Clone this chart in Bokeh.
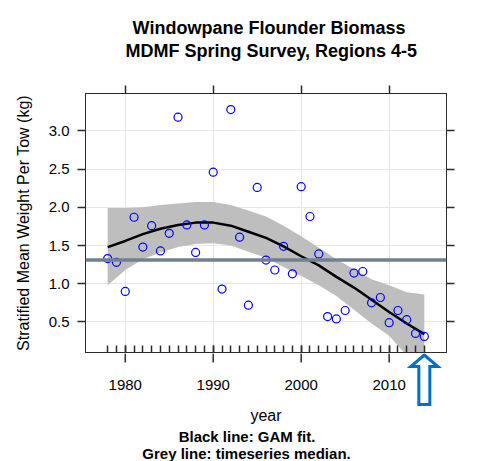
import numpy as np
from bokeh.plotting import figure
from bokeh.layouts import column
from bokeh.models import (Range1d, LinearAxis, FixedTicker, Span, PrintfTickFormatter)
from bokeh.core.properties import value
from bokeh.embed import file_html
from bokeh.resources import INLINE

# ---- data ----
years = list(range(1978, 2015))
biomass = [1.33, 1.28, 0.90, 1.87, 1.48, 1.76, 1.43, 1.66, 3.18, 1.77,
           1.41, 1.77, 2.46, 0.93, 3.28, 1.61, 0.72, 2.26, 1.31, 1.18,
           1.49, 1.13, 2.27, 1.88, 1.39, 0.57, 0.54, 0.65, 1.14, 1.16,
           0.75, 0.82, 0.49, 0.65, 0.53, 0.35, 0.31]

fit_years = [1978, 1980, 1982, 1984, 1986, 1988, 1990, 1992, 1994, 1996,
             1998, 2000, 2002, 2004, 2006, 2008, 2010, 2012, 2014]
gam_fit = [1.48, 1.56, 1.65, 1.72, 1.77, 1.80, 1.80, 1.76, 1.68, 1.60,
           1.49, 1.36, 1.24, 1.09, 0.95, 0.79, 0.63, 0.48, 0.34]
gam_lower = [0.98, 1.18, 1.32, 1.41, 1.48, 1.52, 1.53, 1.50, 1.42, 1.34,
             1.22, 1.10, 0.98, 0.84, 0.66, 0.48, 0.32, 0.06, -0.18]
gam_upper = [1.99, 1.99, 2.00, 2.03, 2.05, 2.07, 2.07, 2.03, 1.96, 1.88,
             1.76, 1.62, 1.47, 1.32, 1.19, 1.06, 0.98, 0.89, 0.86]

x_ticks = [1980, 1990, 2000, 2010]
x_tick_labels = ["1980", "1990", "2000", "2010"]
y_ticks = [0.5, 1.0, 1.5, 2.0, 2.5, 3.0]

title_lines = ["Windowpane Flounder Biomass", "MDMF Spring Survey, Regions 4-5"]
footer_lines = ["Black line: GAM fit.", "Grey line: timeseries median."]

median_value = float(np.median(biomass))

# ---- ranges (lattice-style 7% padding) ----
x0, x1 = 1975.48, 2016.52
y0, y1 = 0.10, 3.49
x_range = Range1d(x0, x1)

FONT = "Liberation Sans"
AX_COL = "#2b2b2b"
TICK_W = 1.5
W = 480
LEFT, RIGHT = 85, 34
FRAME_W = W - LEFT - RIGHT          # 361
FRAME_H = 259
HEAD_H = 85                          # title block height
PLOT_H = 8 + FRAME_H + 1             # top ticks + frame + outline
FOOT_H = 461 - HEAD_H - PLOT_H       # bottom block height
xpx = FRAME_W / (x1 - x0)


def px_to_year(px):
    return x0 + (px - LEFT) / xpx


def bare(fig):
    fig.grid.visible = False
    fig.outline_line_color = None
    fig.background_fill_color = "white"
    fig.border_fill_color = "white"


def style_axis(axis):
    axis.axis_line_color = AX_COL
    axis.axis_line_width = 1
    axis.major_tick_line_color = AX_COL
    axis.minor_tick_line_color = AX_COL
    axis.major_tick_line_width = TICK_W
    axis.minor_tick_line_width = TICK_W


def ticks_only(axis, ticks):
    """Axis that shows tick marks but no tick labels."""
    axis.major_label_overrides = {t: "" for t in ticks}
    axis.major_label_standoff = 0
    axis.major_label_text_font_size = "0px"
    style_axis(axis)


# ---------------- header (titles) ----------------
head = figure(width=W, height=HEAD_H, x_range=Range1d(0, W), y_range=Range1d(HEAD_H, 0),
              output_backend="svg", toolbar_location=None,
              x_axis_location=None, y_axis_location=None,
              min_border_left=0, min_border_right=0, min_border_top=0, min_border_bottom=0)
bare(head)
head.text(x=[244, 247], y=[27, 50], text=title_lines, text_font=value(FONT),
          text_font_size="18px", text_font_style="bold", text_color="black",
          text_align="center", text_baseline="alphabetic")

# ---------------- main plot ----------------
p = figure(width=W, height=PLOT_H, x_range=x_range, y_range=Range1d(y0, y1),
           output_backend="svg", toolbar_location=None,
           x_axis_location="above",
           min_border_left=LEFT, min_border_right=RIGHT,
           min_border_top=8, min_border_bottom=1)
p.background_fill_color = "white"
p.border_fill_color = "white"
p.outline_line_color = AX_COL
p.outline_line_width = 1

# top axis: outward major ticks only
ta = p.xaxis[0]
ta.ticker = FixedTicker(ticks=x_ticks)
ta.major_tick_in = 0
ta.major_tick_out = 8
ta.minor_tick_in = 0
ta.minor_tick_out = 0
ticks_only(ta, x_ticks)

# bottom axis: rug of survey years (ticks inside the frame)
ba = LinearAxis(ticker=FixedTicker(ticks=x_ticks, minor_ticks=years),
                major_tick_in=7, major_tick_out=0, minor_tick_in=7, minor_tick_out=0)
ticks_only(ba, x_ticks)
p.add_layout(ba, "below")

# left axis
ya = p.yaxis[0]
ya.ticker = FixedTicker(ticks=y_ticks)
ya.formatter = PrintfTickFormatter(format="%.1f")
ya.major_tick_in = 0
ya.major_tick_out = 8
ya.minor_tick_in = 0
ya.minor_tick_out = 0
ya.axis_label = "Stratified Mean Weight Per Tow (kg)"
ya.axis_label_text_font = FONT
ya.axis_label_text_font_size = "16px"
ya.axis_label_text_font_style = "normal"
ya.axis_label_text_color = "black"
ya.axis_label_standoff = 14
ya.major_label_standoff = 8
ya.major_label_text_font = FONT
ya.major_label_text_font_size = "15px"
ya.major_label_text_color = "black"
style_axis(ya)

# right axis: outward ticks only
ra = LinearAxis(ticker=FixedTicker(ticks=y_ticks), major_tick_in=0, major_tick_out=8,
                minor_tick_in=0, minor_tick_out=0)
ticks_only(ra, y_ticks)
p.add_layout(ra, "right")

p.xgrid.ticker = FixedTicker(ticks=x_ticks)
p.ygrid.ticker = FixedTicker(ticks=y_ticks)
p.xgrid.grid_line_color = "#e6e6e6"
p.ygrid.grid_line_color = "#e6e6e6"

# GAM confidence band, fit, observations, median
p.varea(x=fit_years, y1=gam_lower, y2=gam_upper, fill_color="#bebebe", fill_alpha=1.0)
p.line(fit_years, gam_fit, line_color="black", line_width=2.5)
p.scatter(years, biomass, marker="circle", size=8, fill_color=None,
          line_color="#0000ff", line_width=1.2)
p.add_layout(Span(location=median_value, dimension="width",
                  line_color="#708090", line_width=3.5))

# ---------------- footer (x tick labels, axis title, notes, arrow) ----------------
foot = figure(width=W, height=FOOT_H, x_range=x_range, y_range=Range1d(FOOT_H, 0),
              output_backend="svg", toolbar_location=None,
              x_axis_location=None, y_axis_location=None,
              min_border_left=LEFT, min_border_right=RIGHT,
              min_border_top=0, min_border_bottom=0)
bare(foot)
# outward major ticks of the year axis
foot.segment(x0=x_ticks, y0=[0] * len(x_ticks), x1=x_ticks, y1=[9] * len(x_ticks),
             line_color=AX_COL, line_width=TICK_W)
foot.text(x=x_ticks, y=[31] * len(x_ticks), text=x_tick_labels, text_font=value(FONT),
          text_font_size="15px", text_color="black",
          text_align="center", text_baseline="alphabetic")
foot.text(x=[(x0 + x1) / 2], y=[62], text=["year"], text_font=value(FONT),
          text_font_size="16px", text_color="black",
          text_align="center", text_baseline="alphabetic")
foot.text(x=[px_to_year(246.5), px_to_year(246)], y=[83, 100], text=footer_lines,
          text_font=value(FONT), text_font_size="15px", text_font_style="bold",
          text_color="black", text_align="center", text_baseline="alphabetic")

# blue hollow arrow marking the latest survey year (shape in pixels)
arrow_dx = [0, 13.5, 5.5, 5.5, -5.5, -5.5, -13.5]
arrow_dy = [1.5, 13, 13, 51, 51, 13, 13]
foot.patch(x=[years[-1] + d / xpx for d in arrow_dx], y=arrow_dy,
           fill_color="white", line_color="#0070c0", line_width=3, line_join="miter")

layout = column(head, p, foot, spacing=0)
open("out.html", "w").write(file_html(layout, INLINE))
